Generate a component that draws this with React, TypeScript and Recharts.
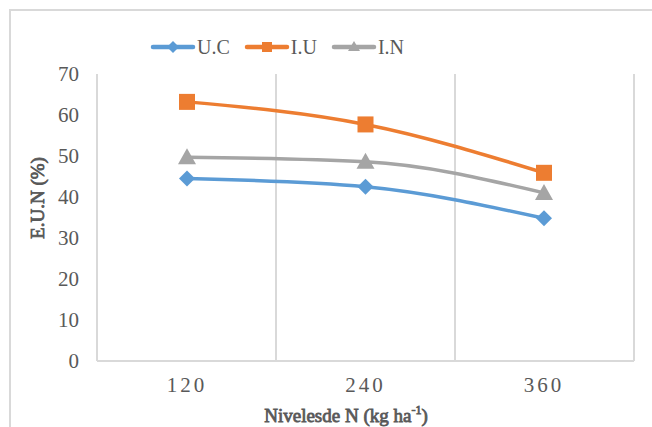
import { LineChart, Line, XAxis, YAxis, CartesianGrid } from "recharts";

const levels = ["120", "240", "360"];
const uc = [44.5, 42.5, 34.8];
const iu = [63.2, 57.7, 45.9];
const inn = [49.7, 48.6, 41.0];
const yTicks = [0, 10, 20, 30, 40, 50, 60, 70];

const data = levels.map((n, i) => ({ n, uc: uc[i], iu: iu[i], inn: inn[i] }));

const BLUE = "#5B9BD5";
const ORANGE = "#ED7D31";
const GRAY = "#A5A5A5";
const TEXT = "#595959";
const GRID = "#D9D9D9";
const FONT = "'Liberation Serif', 'Times New Roman', serif";

const Diamond = ({ cx, cy }: any) => (
  <path d={`M${cx},${cy - 8} L${cx + 8},${cy} L${cx},${cy + 8} L${cx - 8},${cy} Z`} fill={BLUE} />
);
const Square = ({ cx, cy }: any) => (
  <rect x={cx - 8} y={cy - 8} width={16} height={16} fill={ORANGE} />
);
const Triangle = ({ cx, cy }: any) => (
  <path d={`M${cx},${cy - 9} L${cx + 9},${cy + 7} L${cx - 9},${cy + 7} Z`} fill={GRAY} />
);

function LegendItem({ color, label, marker }: { color: string; label: string; marker: string }) {
  return (
    <div style={{ display: "flex", alignItems: "center", marginRight: 14 }}>
      <svg width={46} height={16}>
        <line x1={3} y1={8} x2={43} y2={8} stroke={color} strokeWidth={4.5} strokeLinecap="round" />
        {marker === "d" && <path d="M23,2 L29,8 L23,14 L17,8 Z" fill={color} />}
        {marker === "s" && <rect x={18} y={3} width={10} height={10} fill={color} />}
        {marker === "t" && <path d="M23,2 L29,12 L17,12 Z" fill={color} />}
      </svg>
      <span style={{ marginLeft: 1 }}>{label}</span>
    </div>
  );
}

const titleStyle = {
  position: "absolute" as const,
  whiteSpace: "nowrap" as const,
  fontSize: 19,
  fontFamily: FONT,
  WebkitTextStroke: `0.8px ${TEXT}`,
};

export default function App() {
  return (
    <div
      style={{
        position: "absolute",
        left: 0,
        top: 0,
        width: 652,
        height: 427,
        overflow: "hidden",
        background: "#fff",
        fontFamily: FONT,
        color: TEXT,
      }}
    >
      <div
        style={{
          position: "absolute",
          left: 9,
          top: 9,
          width: 700,
          height: 500,
          borderLeft: `2px solid ${GRID}`,
          borderTop: `2px solid ${GRID}`,
        }}
      />
      <div
        style={{
          position: "absolute",
          top: 36,
          left: 150,
          display: "flex",
          fontSize: 20,
          lineHeight: "22px",
        }}
      >
        <LegendItem color={BLUE} label="U.C" marker="d" />
        <LegendItem color={ORANGE} label="I.U" marker="s" />
        <LegendItem color={GRAY} label="I.N" marker="t" />
      </div>
      <div style={{ position: "absolute", left: 0, top: 0 }}>
        <LineChart width={652} height={427} data={data} margin={{ top: 74, right: 18, bottom: 36, left: 57 }}>
          <CartesianGrid
            horizontal={false}
            stroke={GRID}
            strokeWidth={2}
            verticalCoordinatesGenerator={({ offset }: any) =>
              [1, 2, 3].map((i) => offset.left + (offset.width * i) / 3)
            }
          />
          <XAxis
            dataKey="n"
            height={30}
            padding={{ left: 90, right: 90 }}
            tickLine={false}
            tickSize={0}
            tickMargin={16}
            axisLine={{ stroke: GRID, strokeWidth: 2 }}
            tick={{ fill: TEXT, fontSize: 21, fontFamily: FONT, letterSpacing: 3 }}
          />
          <YAxis
            width={40}
            domain={[0, 70]}
            ticks={yTicks}
            tickLine={false}
            tickSize={0}
            tickMargin={18}
            axisLine={{ stroke: GRID, strokeWidth: 2 }}
            tick={{ fill: TEXT, fontSize: 21, fontFamily: FONT }}
          />
          <Line type="monotone" dataKey="uc" stroke={BLUE} strokeWidth={3.5} dot={<Diamond />} activeDot={false} isAnimationActive={false} />
          <Line type="monotone" dataKey="iu" stroke={ORANGE} strokeWidth={3.5} dot={<Square />} activeDot={false} isAnimationActive={false} />
          <Line type="monotone" dataKey="inn" stroke={GRAY} strokeWidth={3.5} dot={<Triangle />} activeDot={false} isAnimationActive={false} />
        </LineChart>
      </div>
      <div
        style={{
          ...titleStyle,
          left: 38,
          top: 198,
          transform: "translate(-50%, -50%) rotate(-90deg)",
        }}
      >
        E.U.N (%)
      </div>
      <div
        style={{
          ...titleStyle,
          left: 346,
          top: 415,
          transform: "translate(-50%, -50%)",
        }}
      >
        Nivelesde N (kg ha<sup style={{ fontSize: 12 }}>-1</sup>)
      </div>
    </div>
  );
}
